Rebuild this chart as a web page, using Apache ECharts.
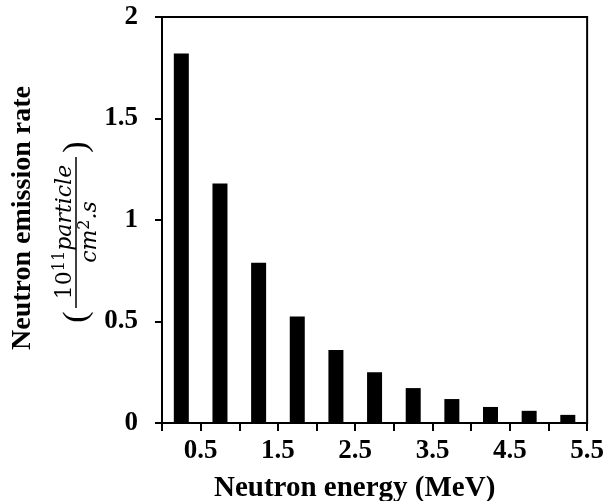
<!DOCTYPE html>
<html>
<head>
<meta charset="utf-8">
<script src="https://cdn.jsdelivr.net/npm/echarts@6/dist/echarts.min.js"></script>
<style>
  html, body { margin: 0; padding: 0; background: #fff; }
  #chart { width: 607px; height: 501px; }
</style>
</head>
<body>
<div id="chart"></div>
<script>
// neutron spectrum, bars centred in 0.5 MeV bins
var energy = [0.25, 0.75, 1.25, 1.75, 2.25, 2.75, 3.25, 3.75, 4.25, 4.75, 5.25];
var rate = [1.82, 1.18, 0.79, 0.525, 0.36, 0.25, 0.172, 0.118, 0.079, 0.06, 0.04];
var xTickLabels = ['0.5', '1.5', '2.5', '3.5', '4.5', '5.5'];
var yTickLabels = ['0', '0.5', '1', '1.5', '2'];

var serif = '"Liberation Serif", "Times New Roman", serif';
var mathFont = '"DejaVu Serif", serif';
var barData = [];
for (var i = 0; i < energy.length; i = i + 1) {
    barData.push([energy[i], rate[i]]);
}

var chart = echarts.init(document.getElementById('chart'));
chart.setOption({
    animation: false,
    backgroundColor: '#fff',
    grid: {
        left: 162,
        right: 19,
        top: 17,
        bottom: 78,
        show: true,
        borderColor: '#000',
        borderWidth: 2
    },
    xAxis: {
        type: 'value',
        min: 0,
        max: 5.5,
        interval: 0.5,
        splitLine: { show: false },
        axisLine: { lineStyle: { color: '#000', width: 2 } },
        axisTick: { show: true, inside: false, length: 8, lineStyle: { color: '#000', width: 2 } },
        axisLabel: {
            margin: 15,
            color: '#000',
            fontFamily: serif,
            fontWeight: 'bold',
            fontSize: 27,
            showMinLabel: true,
            showMaxLabel: true,
            formatter: function (v) {
                var s = String(Math.round(v * 10) / 10);
                return xTickLabels.indexOf(s) >= 0 ? s : '';
            }
        }
    },
    yAxis: {
        type: 'value',
        min: 0,
        max: 2,
        interval: 0.5,
        splitLine: { show: false },
        axisLine: { show: true, lineStyle: { color: '#000', width: 2 } },
        axisTick: { show: true, inside: false, length: 7, lineStyle: { color: '#000', width: 2 } },
        axisLabel: {
            margin: 24,
            color: '#000',
            fontFamily: serif,
            fontWeight: 'bold',
            fontSize: 27,
            formatter: function (v) {
                var s = String(v);
                return yTickLabels.indexOf(s) >= 0 ? s : '';
            }
        }
    },
    series: [{
        type: 'bar',
        barWidth: 15,
        data: barData,
        itemStyle: { color: '#000' }
    }],
    graphic: [
        {
            type: 'text',
            left: 214,
            top: 474,
            style: {
                text: 'Neutron energy (MeV)',
                fill: '#000',
                font: 'bold 29px ' + serif
            }
        },
        {
            type: 'group',
            x: 23,
            y: 220,
            rotation: Math.PI / 2,
            children: [
                {
                    type: 'text',
                    x: 2,
                    y: 0,
                    style: {
                        text: 'Neutron emission rate',
                        fill: '#000',
                        font: 'bold 28px ' + serif,
                        align: 'center',
                        verticalAlign: 'middle'
                    }
                },
                {
                    type: 'text',
                    x: -12,
                    y: 41,
                    style: {
                        text: '{n|10}{sup|11}{it|particle}',
                        align: 'center',
                        verticalAlign: 'middle',
                        fill: '#000',
                        rich: {
                            n: { fontFamily: mathFont, fontSize: 22, fill: '#000', verticalAlign: 'bottom' },
                            sup: { fontFamily: mathFont, fontSize: 16, fill: '#000', verticalAlign: 'top', padding: [0, 0, 8, 0] },
                            it: { fontFamily: mathFont, fontStyle: 'italic', fontSize: 22, fill: '#000', verticalAlign: 'bottom' }
                        }
                    }
                },
                {
                    type: 'line',
                    shape: { x1: -88, y1: 53, x2: 63, y2: 53 },
                    style: { stroke: '#000', lineWidth: 1.5 }
                },
                {
                    type: 'text',
                    x: -12,
                    y: 66,
                    style: {
                        text: '{it|cm}{sup|2}{it|.s}',
                        align: 'center',
                        verticalAlign: 'middle',
                        fill: '#000',
                        rich: {
                            sup: { fontFamily: mathFont, fontSize: 16, fill: '#000', verticalAlign: 'top', padding: [0, 0, 8, 0] },
                            it: { fontFamily: mathFont, fontStyle: 'italic', fontSize: 22, fill: '#000', verticalAlign: 'bottom' }
                        }
                    }
                },
                {
                    type: 'text',
                    x: -97,
                    y: 54,
                    style: {
                        text: '(',
                        fill: '#000',
                        font: '34px ' + serif,
                        align: 'center',
                        verticalAlign: 'middle'
                    }
                },
                {
                    type: 'text',
                    x: 73,
                    y: 54,
                    style: {
                        text: ')',
                        fill: '#000',
                        font: '34px ' + serif,
                        align: 'center',
                        verticalAlign: 'middle'
                    }
                }
            ]
        }
    ]
});
</script>
</body>
</html>
